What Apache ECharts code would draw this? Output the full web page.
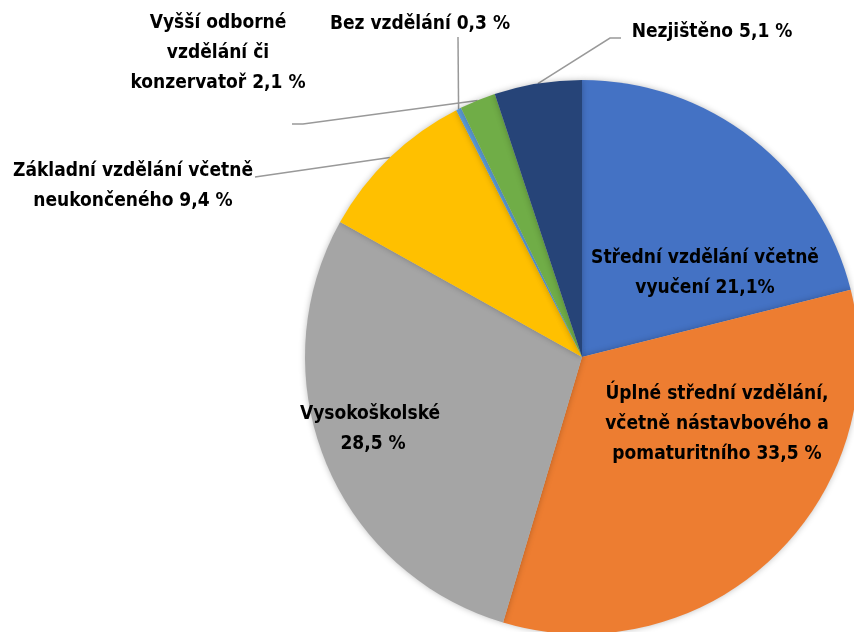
<!DOCTYPE html>
<html>
<head>
<meta charset="utf-8">
<script src="https://cdn.jsdelivr.net/npm/echarts@6/dist/echarts.min.js"></script>
<style>
  html, body { margin:0; padding:0; background:#fff; }
  #chart { width:854px; height:632px; }
</style>
</head>
<body>
<div id="chart"></div>
<script>
// hodnoty v procentech
var categories = [
  'Střední vzdělání včetně\nvyučení',
  'Úplné střední vzdělání,\nvčetně nástavbového a\npomaturitního',
  'Vysokoškolské',
  'Základní vzdělání včetně\nneukončeného',
  'Bez vzdělání',
  'Vyšší odborné\nvzdělání či\nkonzervatoř',
  'Nezjištěno'
];
var values = [21.1, 33.5, 28.5, 9.4, 0.3, 2.1, 5.1];
var valueLabels = ['21,1%', '33,5 %', '\n28,5 %', '9,4 %', '0,3 %', '2,1 %', '5,1 %'];
var colors = ['#4472C4', '#ED7D31', '#A5A5A5', '#FFC000', '#5B9BD5', '#70AD47', '#264478'];
var inside = [true, true, true, false, false, false, false];

// kde stoji popisky
var labelPos = [
  [705, 273], [717, 424], [373, 429], [133, 186], [420, 24], [218, 53], [712, 32]
];
// zlomy vodicich car (bez bodu na vysecce)
var linePts = [
  null, null, null,
  [[255, 177]],
  [[458, 37]],
  [[303, 124], [292, 124]],
  [[610, 38], [621, 38]]
];

var FONT = "'Liberation Sans Narrow', 'DejaVu Sans Condensed', sans-serif";

var dataList = [];
for (var i = 0; i < values.length; i++) {
  dataList.push({
    name: categories[i],
    value: values[i],
    itemStyle: { color: colors[i] },
    label: {
      position: inside[i] ? 'inside' : 'outside',
      formatter: categories[i] + ' ' + valueLabels[i]
    },
    labelLine: { show: !inside[i] }
  });
}

var myChart = echarts.init(document.getElementById('chart'));
var option = {
  backgroundColor: '#fff',
  animation: false,
  series: [
    {
      type: 'pie',
      center: [582, 357],
      radius: 277,
      startAngle: 90,
      clockwise: true,
      itemStyle: {
        borderWidth: 0,
        shadowBlur: 6,
        shadowColor: 'rgba(0,0,0,0.25)'
      },
      emphasis: { disabled: true },
      label: {
        color: '#000',
        fontFamily: FONT,
        fontWeight: 'bold',
        fontSize: 19,
        lineHeight: 30,
        align: 'center'
      },
      labelLine: {
        length: 20,
        length2: 20,
        lineStyle: { color: '#999999', width: 1.5 }
      },
      labelLayout: function (params) {
        var k = params.dataIndex;
        var p = labelPos[k];
        var res = { x: p[0], y: p[1], align: 'center', verticalAlign: 'middle' };
        if (linePts[k] && params.labelLinePoints) {
          res.labelLinePoints = [params.labelLinePoints[0]].concat(linePts[k]);
        }
        return res;
      },
      data: dataList
    }
  ]
};
myChart.setOption(option);
</script>
</body>
</html>
